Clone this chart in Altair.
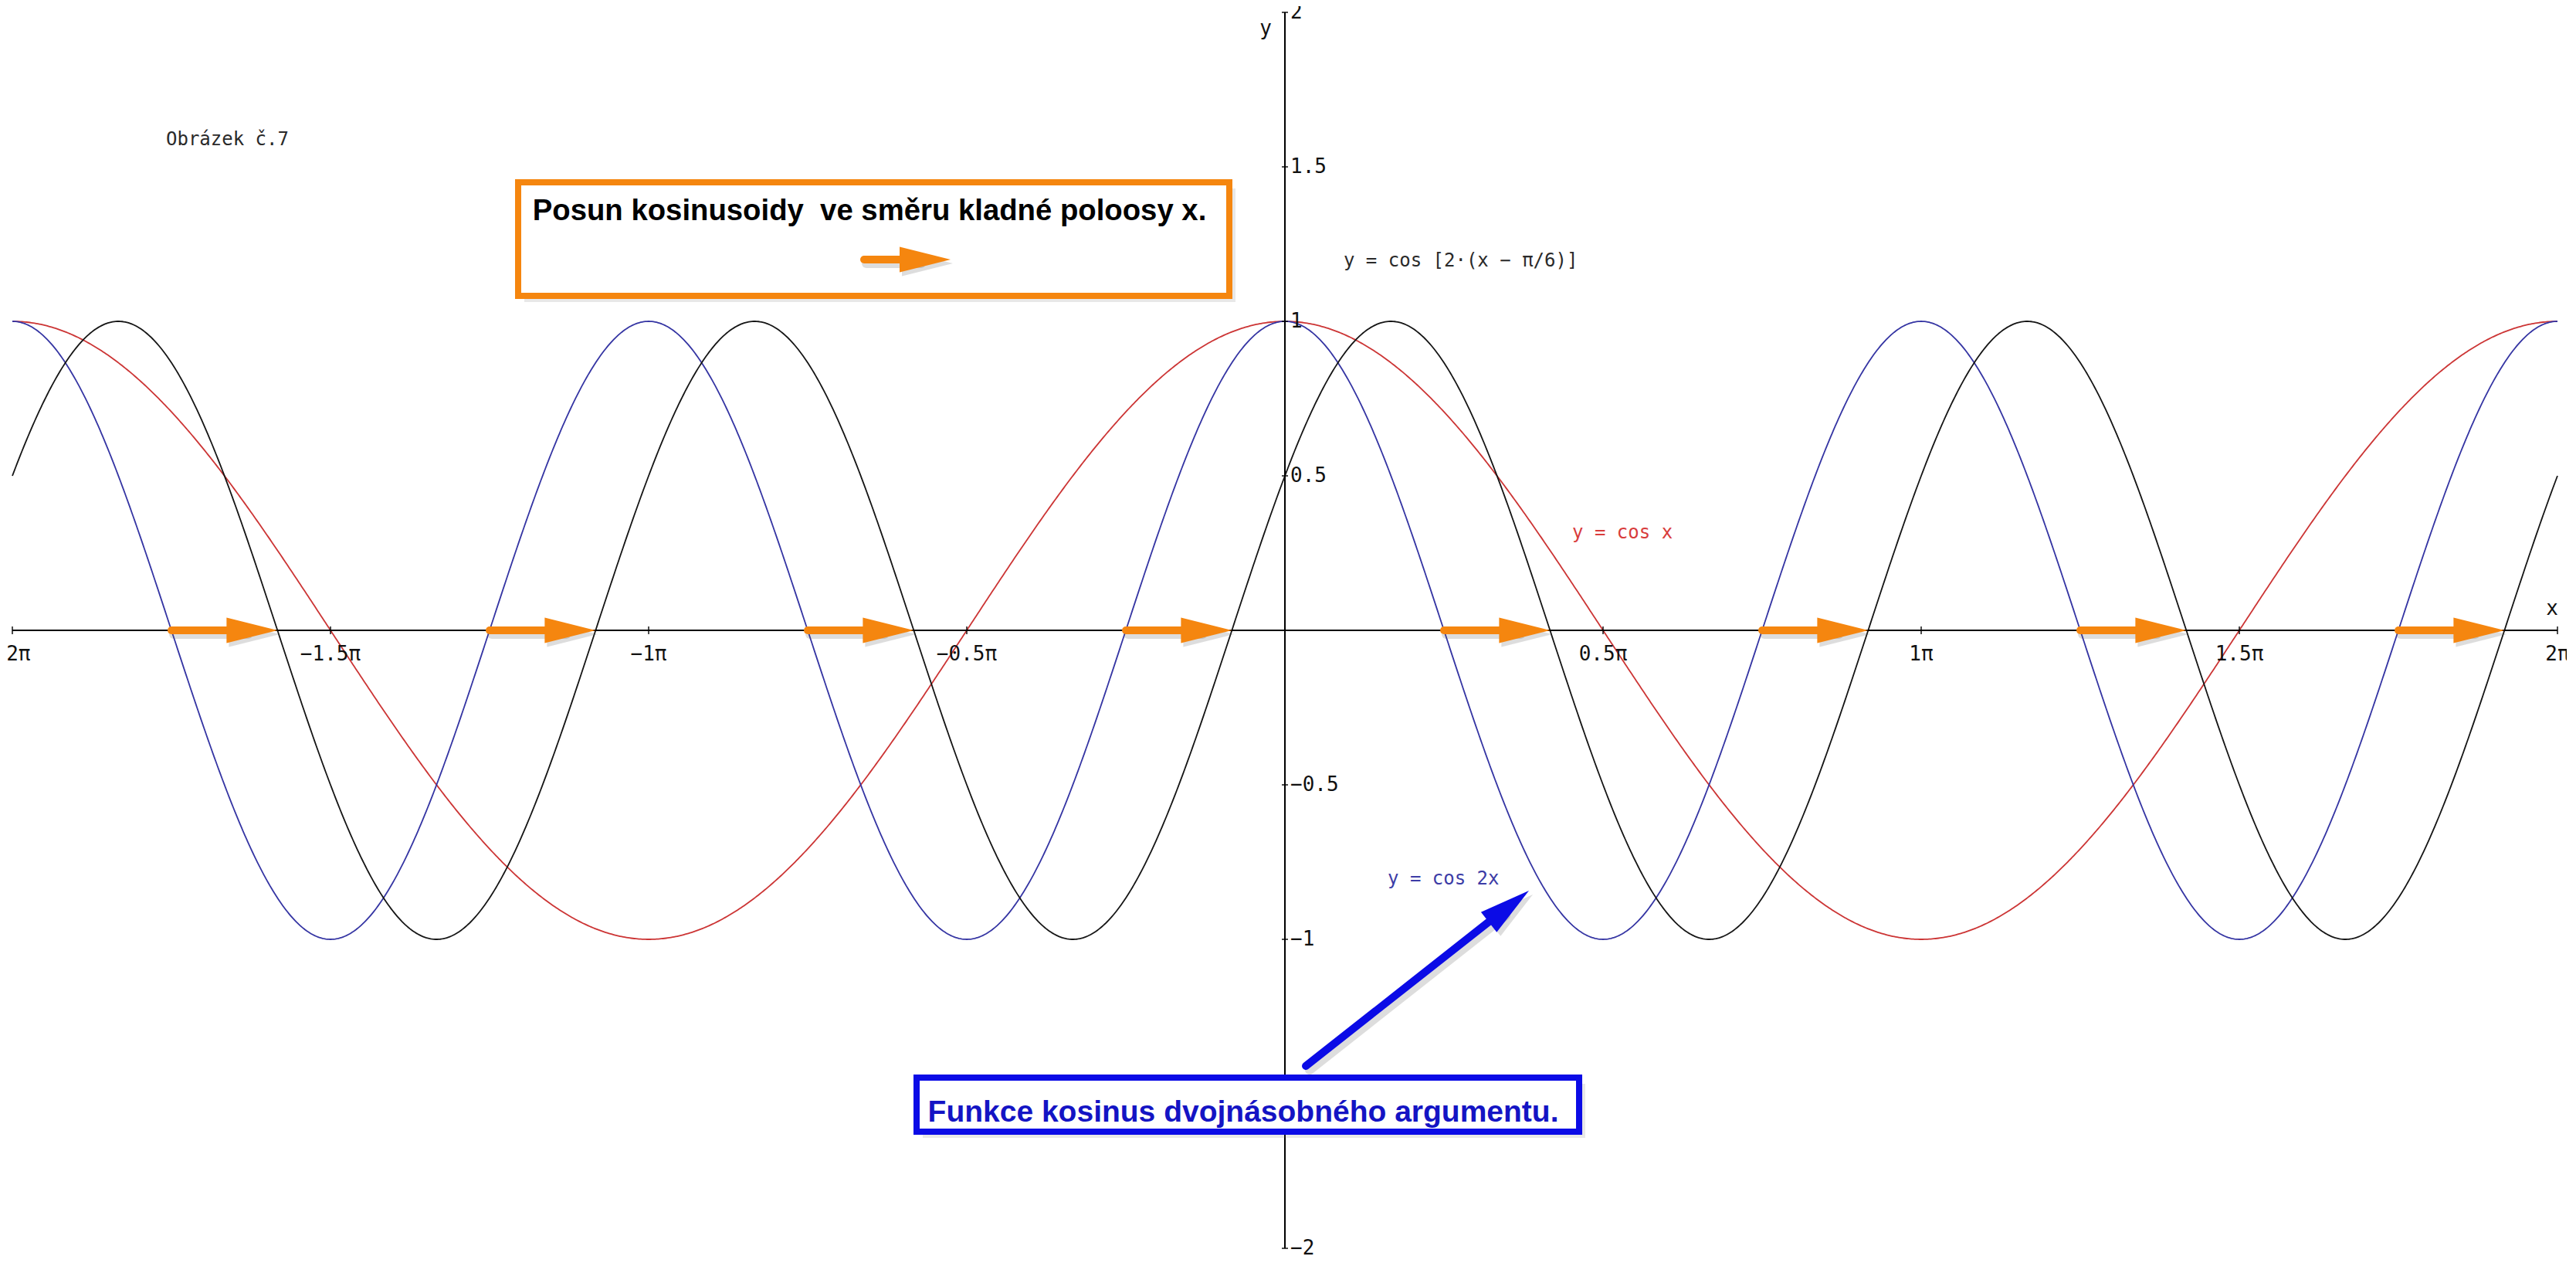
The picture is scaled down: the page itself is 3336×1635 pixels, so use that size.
import altair as alt
import numpy as np
import pandas as pd

# ---------------- data (x in multiples of pi) ----------------
SERIES = ["y = cos x", "y = cos 2x", "y = cos [2·(x − π/6)]"]
FREQ = [1, 2, 2]
SHIFT = [0.0, 0.0, 1.0 / 6.0]          # phase shift in units of pi
CURVE_COLORS = ["#cc3535", "#3535a3", "#151515"]

X_TICKS = [-2, -1.5, -1, -0.5, 0.5, 1, 1.5, 2]
X_TICK_LABELS = ["−2π", "−1.5π", "−1π", "−0.5π", "0.5π", "1π", "1.5π", "2π"]
Y_TICKS = [2, 1.5, 1, 0.5, -0.5, -1, -1.5, -2]
# the −1.5 label is hidden behind the blue box in the reference
Y_LABEL_VALUES = [2, 1.5, 1, 0.5, -0.5, -1, -2]
Y_TICK_LABELS = ["2", "1.5", "1", "0.5", "−0.5", "−1", "−2"]

# zero of cos 2x  ->  zero of cos[2(x - pi/6)]
ARROW_START = [-1.75, -1.25, -0.75, -0.25, 0.25, 0.75, 1.25, 1.75]
ARROW_END = [-1.5833, -1.0833, -0.5833, -0.0833, 0.4167, 0.9167, 1.4167, 1.9167]

t = np.linspace(-2, 2, 1601)
curve_rows = []
for name, f, s in zip(SERIES, FREQ, SHIFT):
    yy = np.cos(np.pi * f * (t - s))
    for a, b in zip(t, yy):
        curve_rows.append({"x": float(a), "y": float(b), "series": name})
curves_df = pd.DataFrame(curve_rows)

W, H = 3296, 1600
XS = alt.Scale(domain=[-2, 2], nice=False, zero=False)
YS = alt.Scale(domain=[-2, 2], nice=False, zero=False)


def X(f="x"):
    return alt.X(f"{f}:Q", scale=XS, axis=None)


def Y(f="y"):
    return alt.Y(f"{f}:Q", scale=YS, axis=None)


MONO = "DejaVu Sans Mono"
ORANGE = "#f5860f"
BLUE = "#0b0be6"
ARROW_PATH = "M0,0L-2,-0.5L-2,0.5Z"

# ---------------- axes ----------------
axis_lines = pd.DataFrame({"x": [-2, 0], "x2": [2, 0], "y": [0, -2], "y2": [0, 2]})
x_axis = alt.Chart(axis_lines.iloc[[0]]).mark_rule(color="#000", strokeWidth=2).encode(
    x=X(), x2="x2:Q", y=Y())
y_axis = alt.Chart(axis_lines.iloc[[1]]).mark_rule(color="#000", strokeWidth=2).encode(
    x=X(), y=Y(), y2="y2:Q")

xt = pd.DataFrame({"x": X_TICKS, "y": [0] * len(X_TICKS), "label": X_TICK_LABELS})
yt = pd.DataFrame({"x": [0] * len(Y_TICKS), "y": Y_TICKS})
yl = pd.DataFrame({"x": [0] * len(Y_LABEL_VALUES), "y": Y_LABEL_VALUES, "label": Y_TICK_LABELS})

x_ticks = alt.Chart(xt).mark_tick(orient="vertical", size=10, thickness=2, color="#000").encode(
    x=X(), y=Y())
y_ticks = alt.Chart(yt).mark_tick(orient="horizontal", size=8, thickness=2, color="#000").encode(
    x=X(), y=Y())
x_labels = alt.Chart(xt).mark_text(font=MONO, fontSize=26, color="#111", baseline="middle",
                                   align="center", dy=31).encode(x=X(), y=Y(), text="label:N")
y_labels = alt.Chart(yl).mark_text(font=MONO, fontSize=26, color="#111", baseline="middle",
                                   align="left", dx=7).encode(x=X(), y=Y(), text="label:N")

axis_names = pd.DataFrame({"x": [-0.0206, 1.9915], "y": [1.9475, 0.07], "label": ["y", "x"]})
y_name = alt.Chart(axis_names.iloc[[0]]).mark_text(font=MONO, fontSize=26, color="#111",
                                                   align="right", baseline="middle").encode(
    x=X(), y=Y(), text="label:N")
x_name = alt.Chart(axis_names.iloc[[1]]).mark_text(font=MONO, fontSize=26, color="#111",
                                                   align="center", baseline="middle").encode(
    x=X(), y=Y(), text="label:N")

# ---------------- curves ----------------
curves = alt.Chart(curves_df).mark_line(strokeWidth=1.8).encode(
    x=X(), y=Y(),
    color=alt.Color("series:N", scale=alt.Scale(domain=SERIES, range=CURVE_COLORS), legend=None),
    detail="series:N",
)

# ---------------- orange arrows on the x axis ----------------
arr = pd.DataFrame({"x": ARROW_START, "tip": ARROW_END, "y": [0] * len(ARROW_START)})
arr["shaft_end"] = arr["tip"] - 0.05
shaft_shadow = alt.Chart(arr).mark_rule(color="#555", opacity=0.2, strokeWidth=12,
                                        strokeCap="round", yOffset=5, xOffset=3,
                                        x2Offset=3).encode(x=X(), x2="shaft_end:Q", y=Y())
head_shadow = alt.Chart(arr).mark_point(shape=ARROW_PATH, filled=True, size=4356, color="#555",
                                        opacity=0.2, xOffset=3, yOffset=5).encode(
    x=X("tip"), y=Y())
shafts = alt.Chart(arr).mark_rule(color=ORANGE, strokeWidth=10, strokeCap="round").encode(
    x=X(), x2="shaft_end:Q", y=Y())
heads = alt.Chart(arr).mark_point(shape=ARROW_PATH, filled=True, size=4356, color=ORANGE,
                                  opacity=1).encode(x=X("tip"), y=Y())

# ---------------- annotation boxes ----------------
boxes = pd.DataFrame({
    "x": [-1.2051, -0.5789], "x2": [-0.0874, 0.4624],
    "y": [1.45, -1.4475], "y2": [1.0825, -1.6225],
})
box_shadow1 = alt.Chart(boxes).mark_rect(color="#666", opacity=0.15, xOffset=8, x2Offset=8,
                                         yOffset=8, y2Offset=8).encode(
    x=X(), x2="x2:Q", y=Y(), y2="y2:Q")
box_shadow2 = alt.Chart(boxes).mark_rect(color="#666", opacity=0.15, xOffset=4, x2Offset=4,
                                         yOffset=4, y2Offset=4).encode(
    x=X(), x2="x2:Q", y=Y(), y2="y2:Q")
orange_box = alt.Chart(boxes.iloc[[0]]).mark_rect(fill="white", stroke=ORANGE, strokeWidth=8).encode(
    x=X(), x2="x2:Q", y=Y(), y2="y2:Q")
blue_box = alt.Chart(boxes.iloc[[1]]).mark_rect(fill="white", stroke=BLUE, strokeWidth=8).encode(
    x=X(), x2="x2:Q", y=Y(), y2="y2:Q")

orange_text = alt.Chart(pd.DataFrame({"x": [-0.6529], "y": [1.328],
                                      "t": ["Posun kosinusoidy\u00a0 ve směru kladné poloosy x."]})
                        ).mark_text(font="Liberation Sans", fontWeight="bold", fontSize=38.3,
                                    color="#000", align="center", baseline="alphabetic").encode(
    x=X(), y=Y(), text="t:N")
blue_text = alt.Chart(pd.DataFrame({"x": [-0.0655], "y": [-1.59],
                                    "t": ["Funkce kosinus dvojnásobného argumentu."]})
                      ).mark_text(font="Liberation Sans", fontWeight="bold", fontSize=39,
                                  color="#1414c4", align="center", baseline="alphabetic").encode(
    x=X(), y=Y(), text="t:N")

# small arrow inside the orange box
small = pd.DataFrame({"x": [-0.6614], "shaft_end": [-0.5755], "tip": [-0.5255], "y": [1.2]})
small_shadow = alt.Chart(small).mark_rule(color="#555", opacity=0.2, strokeWidth=12,
                                          strokeCap="round", yOffset=5, xOffset=3,
                                          x2Offset=3).encode(x=X(), x2="shaft_end:Q", y=Y())
small_head_shadow = alt.Chart(small).mark_point(shape=ARROW_PATH, filled=True, size=4356,
                                                color="#555", opacity=0.2, xOffset=3,
                                                yOffset=5).encode(x=X("tip"), y=Y())
small_shaft = alt.Chart(small).mark_rule(color=ORANGE, strokeWidth=10, strokeCap="round").encode(
    x=X(), x2="shaft_end:Q", y=Y())
small_head = alt.Chart(small).mark_point(shape=ARROW_PATH, filled=True, size=4356, color=ORANGE,
                                         opacity=1).encode(x=X("tip"), y=Y())

# blue pointer arrow
bp = pd.DataFrame({"x": [0.0328], "y": [-1.41], "x2": [0.341], "y2": [-0.91],
                   "tx": [0.3835], "ty": [-0.8425]})
bp_shadow = alt.Chart(bp).mark_rule(color="#555", opacity=0.2, strokeWidth=12, strokeCap="round",
                                    xOffset=5, x2Offset=5, yOffset=5, y2Offset=5).encode(
    x=X(), x2="x2:Q", y=Y(), y2="y2:Q")
bp_head_shadow = alt.Chart(bp).mark_point(shape=ARROW_PATH, filled=True, size=4356, color="#555",
                                          opacity=0.2, angle=321.85, xOffset=5, yOffset=5).encode(
    x=X("tx"), y=Y("ty"))
bp_shaft = alt.Chart(bp).mark_rule(color=BLUE, strokeWidth=10, strokeCap="round").encode(
    x=X(), x2="x2:Q", y=Y(), y2="y2:Q")
bp_head = alt.Chart(bp).mark_point(shape=ARROW_PATH, filled=True, size=4356, color=BLUE,
                                   opacity=1, angle=321.85).encode(x=X("tx"), y=Y("ty"))

# ---------------- curve labels and caption ----------------
lab = pd.DataFrame({
    "x": [-1.7585, 0.0922, 0.4515, 0.1614],
    "y": [1.5875, 1.195, 0.315, -0.805],
    "t": ["Obrázek č.7", "y = cos [2·(x − π/6)]", "y = cos x", "y = cos 2x"],
    "c": ["#2a2a2a", "#2a2a2a", "#d83c3c", "#3c3ca6"],
})
labels = alt.Chart(lab).mark_text(font=MONO, fontSize=24, align="left", baseline="middle").encode(
    x=X(), y=Y(), text="t:N", color=alt.Color("c:N", scale=None))

chart = alt.layer(
    curves,
    x_axis, y_axis, x_ticks, y_ticks, x_labels, y_labels, y_name, x_name,
    shaft_shadow, head_shadow, shafts, heads,
    labels,
    box_shadow1, box_shadow2, orange_box, blue_box, orange_text, blue_text,
    small_shadow, small_head_shadow, small_shaft, small_head,
    bp_shadow, bp_head_shadow, bp_shaft, bp_head,
).properties(
    width=W, height=H,
    autosize=alt.AutoSizeParams(type="none"),
    padding={"left": 8, "top": 8, "right": 12, "bottom": 8},
    background="white",
).configure_view(stroke=None)

chart.save("out.html", embed_options={"renderer": "svg", "actions": False})
